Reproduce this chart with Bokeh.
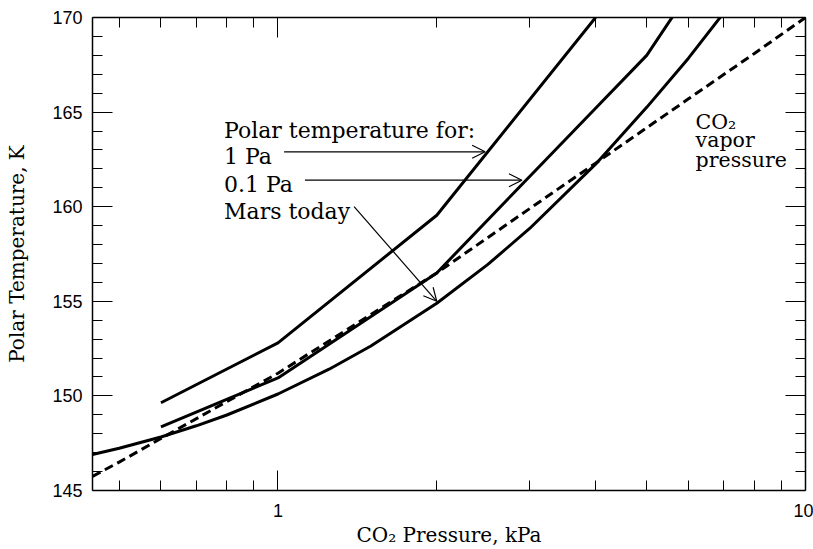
from bokeh.plotting import figure
from bokeh.models import FixedTicker, LinearAxis, LogAxis, Range1d, Label, Arrow, OpenHead, CustomJSTickFormatter
from bokeh.embed import file_html
from bokeh.resources import INLINE

# ---------------- data ----------------
# CO2 pressure (kPa) and polar temperature (K)
mars_p = [0.445, 0.5, 0.6, 0.7, 0.8, 1.0, 1.25, 1.5, 2.0, 2.5, 3.0, 4.0, 5.0, 6.0, 7.0]
mars_T = [146.9, 147.23, 147.83, 148.42, 148.99, 150.1, 151.41, 152.64, 154.9, 156.95,
          158.85, 162.25, 165.25, 167.85, 170.25]

pa01_p = [0.6, 1.0, 2.0, 3.0, 4.0, 5.0, 6.0]
pa01_T = [148.36, 150.95, 156.5, 161.6, 165.2, 168.0, 171.3]

pa1_p = [0.6, 1.0, 2.0, 4.0]
pa1_T = [149.64, 152.8, 159.55, 170.0]

vap_p = [0.445, 0.5, 0.6, 0.8, 1.0, 1.5, 2.0, 3.0, 4.0, 6.0, 8.0, 10.0]
vap_T = [145.75, 146.5, 147.75, 149.7, 151.2, 154.3, 156.5, 159.9, 162.3, 165.7, 168.1, 170.0]

x_major = [1, 10]
x_major_labels = ["1", "10"]
x_minor = [0.5, 0.6, 0.7, 0.8, 0.9, 2, 3, 4, 5, 6, 7, 8, 9]
y_major = [145, 150, 155, 160, 165, 170]
y_minor = [t for t in range(145, 171) if t not in y_major]

SERIF = "DejaVu Serif"
SANS = "Liberation Sans"

p = figure(width=813, height=549, x_axis_type="log",
           x_range=Range1d(0.445, 10), y_range=Range1d(145, 170),
           output_backend="svg", toolbar_location=None,
           min_border_left=92, min_border_top=17, min_border_right=8, min_border_bottom=58)
p.xgrid.visible = False
p.ygrid.visible = False
p.outline_line_color = None


def style(ax):
    ax.major_tick_in = 20
    ax.major_tick_out = 0
    ax.minor_tick_in = 10
    ax.minor_tick_out = 0
    ax.axis_line_width = 1.5
    ax.axis_line_color = "black"
    ax.major_tick_line_color = "black"
    ax.minor_tick_line_color = "black"
    ax.major_tick_line_width = 1
    ax.minor_tick_line_width = 1
    ax.major_label_text_font = SANS
    ax.major_label_text_font_size = "18px"
    ax.major_label_text_color = "black"
    ax.axis_label_text_font = SERIF
    ax.axis_label_text_font_size = "20px"
    ax.axis_label_text_font_style = "normal"
    ax.axis_label_text_color = "black"


def mirror(ax):
    ax.major_label_text_font_size = "1px"
    ax.major_label_text_color = None
    ax.major_label_standoff = 0
    ax.formatter = CustomJSTickFormatter(code="return ' ';")


xt = FixedTicker(ticks=x_major, minor_ticks=x_minor)
yt = FixedTicker(ticks=y_major, minor_ticks=y_minor)

xa = p.xaxis[0]
xa.ticker = xt
xa.formatter = CustomJSTickFormatter(
    args=dict(vals=x_major, labs=x_major_labels),
    code="for (let i = 0; i < vals.length; i++) { if (Math.abs(tick - vals[i]) < 1e-9) return labs[i]; } return '';")
style(xa)
xa.major_label_standoff = 13
xa.axis_label = "CO₂ Pressure, kPa"
xa.axis_label_standoff = 3

ya = p.yaxis[0]
ya.ticker = yt
style(ya)
ya.major_label_standoff = 10
ya.axis_label = "Polar Temperature, K"
ya.axis_label_standoff = 20

top = LogAxis(ticker=xt)
style(top)
mirror(top)
p.add_layout(top, "above")

right = LinearAxis(ticker=yt)
style(right)
mirror(right)
p.add_layout(right, "right")

# ---------------- curves ----------------
p.line(vap_p, vap_T, line_color="black", line_width=3, line_dash="9 5")
p.line(mars_p, mars_T, line_color="black", line_width=3)
p.line(pa01_p, pa01_T, line_color="black", line_width=3)
p.line(pa1_p, pa1_T, line_color="black", line_width=3)

# ---------------- annotations ----------------
ann_font = "22px"
for txt, xx, yy in [("Polar temperature for:", 0.79, 164.04),
                    ("1 Pa", 0.79, 162.63),
                    ("0.1 Pa", 0.79, 161.19),
                    ("Mars today", 0.79, 159.77)]:
    p.add_layout(Label(x=xx, y=yy, text=txt, text_font=SERIF, text_font_size=ann_font,
                       text_color="black", text_baseline="alphabetic", text_align="left"))

for txt, yy in [("CO₂", 164.5), ("vapor", 163.5), ("pressure", 162.46)]:
    p.add_layout(Label(x=6.19, y=yy, text=txt, text_font=SERIF, text_font_size="20.5px",
                       text_color="black", text_baseline="alphabetic", text_align="left"))

arrows = [(1.027, 162.9, 2.47, 162.9),
          (1.125, 161.4, 2.90, 161.4),
          (1.394, 160.0, 2.0, 155.0)]
for xs, ys, xe, ye in arrows:
    p.add_layout(Arrow(end=OpenHead(size=13, line_width=1.2, line_color="black"),
                       x_start=xs, y_start=ys, x_end=xe, y_end=ye,
                       line_width=1.2, line_color="black"))

open("out.html", "w").write(file_html(p, INLINE))
